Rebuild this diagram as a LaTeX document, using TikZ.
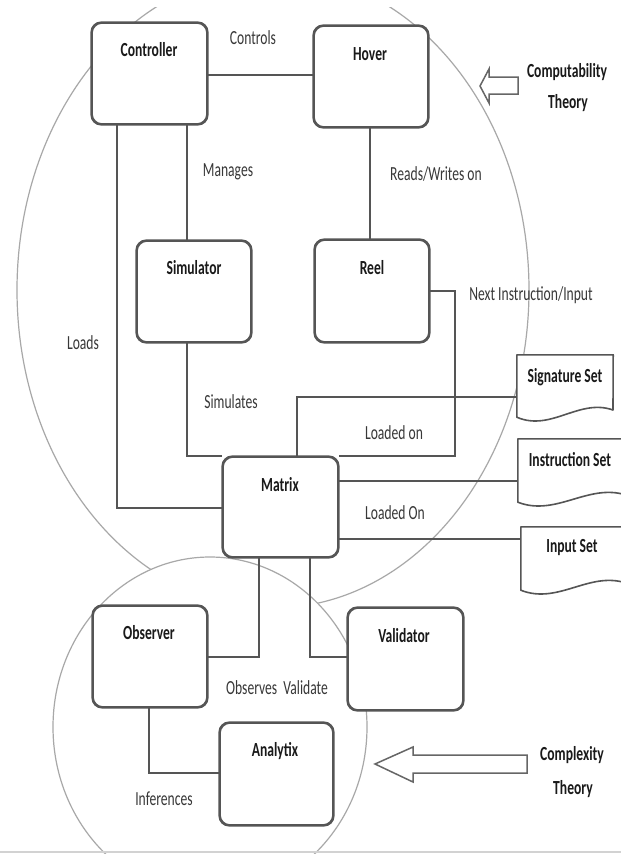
\documentclass[tikz,border=0pt]{standalone}
\usepackage{fontspec}
\setmainfont{Carlito}[FakeStretch=0.68]
\definecolor{boxgray}{HTML}{555555}
\definecolor{linegray}{HTML}{555555}
\definecolor{ringgray}{HTML}{A8A8A8}
\definecolor{arrgray}{HTML}{666666}
\definecolor{txt}{HTML}{1A1A1A}
\definecolor{txttwo}{HTML}{383838}
\begin{document}
\begin{tikzpicture}[x=1pt,y=-1pt,
  box/.style={draw=boxgray, line width=1.6pt, rounded corners=10pt, fill=white, inner sep=0pt},
  lab/.style={font=\bfseries\fontsize{20}{22}\selectfont, text=txt, inner sep=0pt},
  rel/.style={font=\fontsize{20}{22}\selectfont, text=txttwo, inner sep=0pt},
  conn/.style={draw=linegray, line width=1.5pt},
  docbox/.style={draw=boxgray, line width=1.6pt, fill=white, line join=round},
  hollow/.style={draw=arrgray, line width=1.5pt, fill=white, line join=miter},
  ring/.style={draw=ringgray, line width=1.2pt},
  anchorbox/.style={inner sep=0pt, draw=none}]
\useasboundingbox (0,0) rectangle (621,854);
\fill[white] (0,0) rectangle (621,854);
% ellipses
\begin{scope}
  \clip (0,7) rectangle (621,854);
  \draw[ring] (273,290) ellipse [x radius=256pt, y radius=318pt];
  \draw[ring, fill=white] (210,727) ellipse [x radius=157pt, y radius=170pt];
\end{scope}
\draw[draw=gray!35, line width=1.5pt] (0,852) -- (621,852);
% helper coordinates
\coordinate (xl) at (117,0);
\coordinate (xm) at (187,0);
\coordinate (xh) at (370,0);
\coordinate (xr) at (455,0);
\coordinate (xs) at (297,0);
\coordinate (xo) at (259,0);
\coordinate (xv) at (310,0);
\coordinate (xi) at (149,0);
\coordinate (yc) at (0,75);
\coordinate (yr) at (0,291);
\coordinate (ymt) at (0,456);
\coordinate (ysig) at (0,397);
\coordinate (yins) at (0,481);
\coordinate (yinp) at (0,539);
\coordinate (yld) at (0,508);
\coordinate (yob) at (0,657);
\coordinate (yan) at (0,773);
% boxes
\node[box, minimum width=115pt, minimum height=101pt] (ctrl) at (149.5,73.5) {};
\node[box, minimum width=114pt, minimum height=101pt] (hover) at (371,76.5) {};
\node[box, minimum width=114pt, minimum height=101pt] (sim) at (194,291.5) {};
\node[box, minimum width=114pt, minimum height=102pt] (reel) at (372,291) {};
\node[box, minimum width=115pt, minimum height=100pt] (matrix) at (280.5,507) {};
\node[box, minimum width=114pt, minimum height=101pt] (obs) at (150,656.5) {};
\node[box, minimum width=115pt, minimum height=102pt] (val) at (405.5,659) {};
\node[box, minimum width=113pt, minimum height=102pt] (ana) at (276.5,774) {};
% document anchors
\node[anchorbox, minimum width=96pt, minimum height=62pt] (sig) at (565,386) {};
\node[anchorbox, minimum width=108pt, minimum height=63pt] (ins) at (572,470.5) {};
\node[anchorbox, minimum width=105pt, minimum height=63pt] (inp) at (573.5,558.5) {};
% connectors
\draw[conn] (ctrl.east |- yc) -- (hover.west |- yc);
\draw[conn] (ctrl.south -| xl) |- (matrix.west |- yld);
\draw[conn] (ctrl.south -| xm) -- (sim.north -| xm);
\draw[conn] (hover.south -| xh) -- (reel.north -| xh);
\draw[conn] (reel.east |- yr) -| (xr |- ymt) -- (matrix.north east |- ymt);
\draw[conn] (sim.south -| xm) |- (matrix.north west |- ymt);
\draw[conn] (matrix.north -| xs) |- (sig.west |- ysig);
\draw[conn] (matrix.east |- yins) -- (ins.west |- yins);
\draw[conn] (matrix.east |- yinp) -- (inp.west |- yinp);
\draw[conn] (matrix.south -| xo) |- (obs.east |- yob);
\draw[conn] (matrix.south -| xv) |- (val.west |- yob);
\draw[conn] (obs.south -| xi) |- (ana.west |- yan);
% redraw box outlines on top of connectors
\foreach \n in {ctrl,hover,sim,reel,matrix,obs,val,ana}{
  \draw[draw=boxgray, line width=1.6pt, rounded corners=10pt] (\n.north west) rectangle (\n.south east);
}
% document shapes
\draw[docbox] (sig.south west) -- (sig.north west) -- (sig.north east) -- (613,410)
  .. controls (579,398) and (551,432) .. (sig.south west) -- cycle;
\draw[docbox] (ins.south west) -- (ins.north west) -- (ins.north east) -- (626,495)
  .. controls (588,483) and (556,517) .. (ins.south west) -- cycle;
\draw[docbox] (inp.south west) -- (inp.north west) -- (inp.north east) -- (626,583)
  .. controls (589,571) and (558,605) .. (inp.south west) -- cycle;
% box labels
\node[lab] (tctrl) at (149,50) {Controller};
\node[lab] (thover) at (370,54) {Hover};
\node[lab] (tsim) at (194,268) {Simulator};
\node[lab] (treel) at (372,268) {Reel};
\node[lab] (tmatrix) at (280,485) {Matrix};
\node[lab] (tobs) at (149,633) {Observer};
\node[lab] (tval) at (404,636) {Validator};
\node[lab] (tana) at (275,751) {Analytix};
\node[lab] (tsig) at (565,377) {Signature Set};
\node[lab] (tins) at (570,460) {Instruction Set};
\node[lab] (tinp) at (572,548) {Input Set};
% relation labels
\node[rel] (lcontrols) at (253,38) {Controls};
\node[rel] (lmanages) at (228,172) {Manages};
\node[rel] (lreads) at (436,174) {Reads/Writes on};
\node[rel] (lnext) at (531,295) {Next Instruction/Input};
\node[rel] (lloads) at (83,343) {Loads};
\node[rel] (lsim) at (231,402) {Simulates};
\node[rel] (lloaded) at (394,433) {Loaded on};
\node[rel] (lloadedb) at (395,513) {Loaded On};
\node[rel] (lobs) at (277,688) {Observes~~Validate};
\node[rel] (linf) at (164,799) {Inferences};
% theory arrows
\draw[hollow] (518,77) -- (489,77) -- (489,69) -- (480,86) -- (489,103) -- (489,94) -- (518,94) -- cycle;
\node[lab] (tcomp) at (567,72) {Computability};
\node[lab] (tcomp2) at (568,103) {Theory};
\draw[hollow] (527,755) -- (413,755) -- (413,747) -- (375,764) -- (413,782) -- (413,773) -- (527,773) -- cycle;
\node[lab] (tcplx) at (572,755) {Complexity};
\node[lab] (tcplx2) at (573,789) {Theory};
\end{tikzpicture}
\end{document}
